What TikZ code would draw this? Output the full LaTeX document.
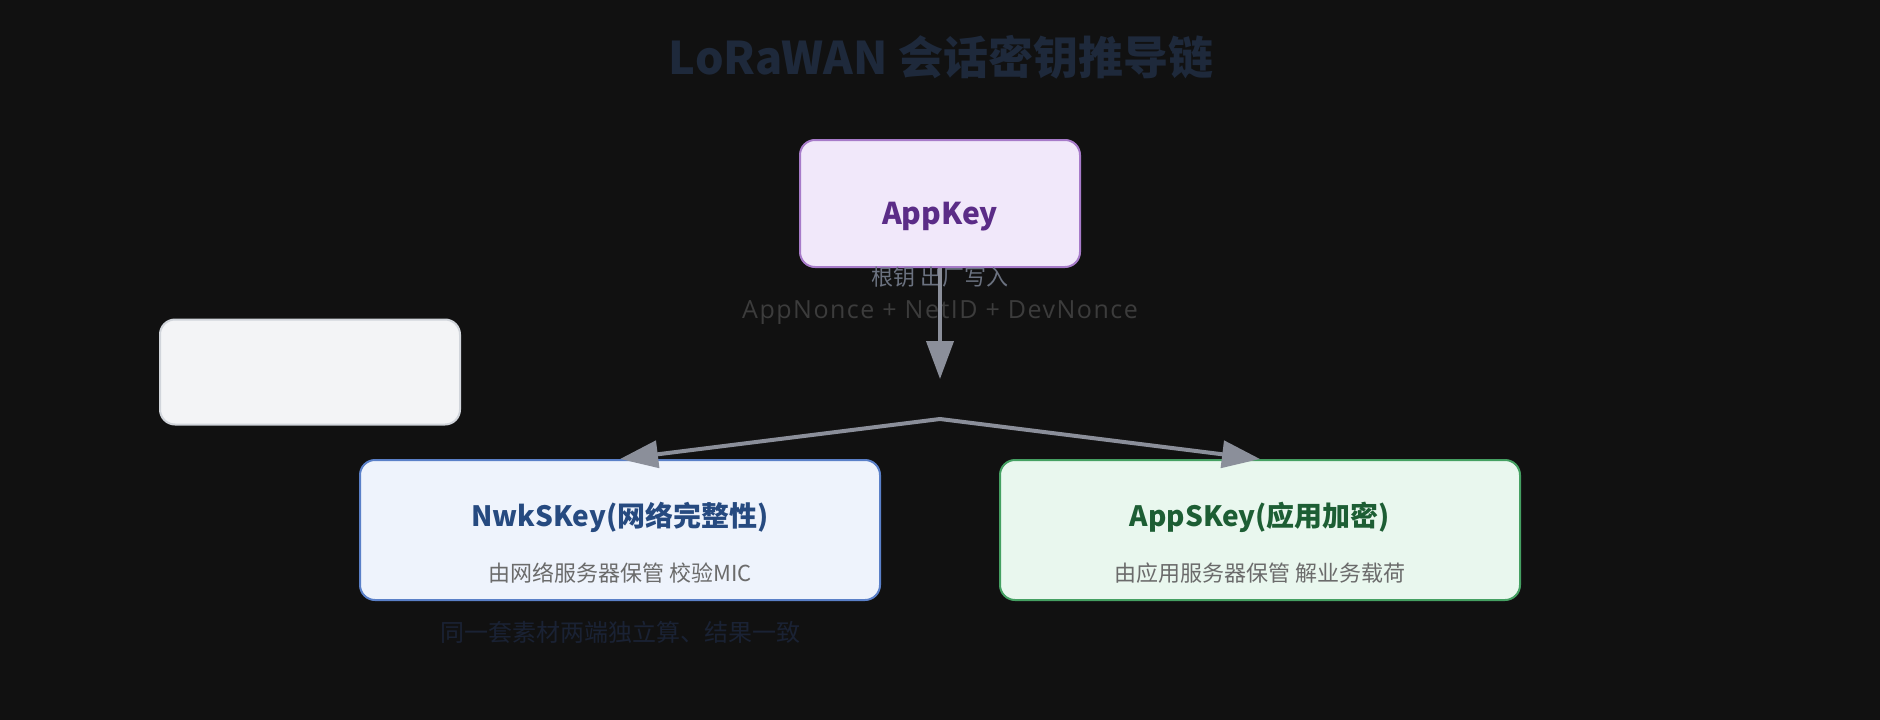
\documentclass[tikz,border=0pt]{standalone}
\usepackage{fontspec}
\setmainfont{Noto Sans CJK SC}
\newfontfamily\noncefont[LetterSpace=6]{Open Sans}
\usetikzlibrary{arrows.meta,positioning}
\definecolor{bgdark}{HTML}{111111}
\definecolor{titleslate}{HTML}{1E293B}
\definecolor{footslate}{HTML}{1A2234}
\definecolor{linkgray}{HTML}{8B8F9A}
\definecolor{notegray}{HTML}{6B7280}
\definecolor{noncegray}{HTML}{3C3C3C}
\definecolor{subgray}{HTML}{6B6B6B}
\definecolor{appfill}{HTML}{F1E8FA}
\definecolor{appline}{HTML}{A77BC9}
\definecolor{apptext}{HTML}{5B2C87}
\definecolor{nwkfill}{HTML}{EEF3FC}
\definecolor{nwkline}{HTML}{5A80C8}
\definecolor{nwktext}{HTML}{264A80}
\definecolor{askfill}{HTML}{E9F7EE}
\definecolor{askline}{HTML}{45A062}
\definecolor{asktext}{HTML}{1D5E34}
\definecolor{blankfill}{HTML}{F3F4F6}
\definecolor{blankline}{HTML}{D1D5DB}

\begin{document}
\begin{tikzpicture}[x=1pt,y=-1pt,
    keybox/.style={draw, rounded corners=15pt, line width=2pt, inner sep=0pt},
    keyname/.style={font=\fontsize{28}{34}\selectfont\bfseries, inner sep=0pt},
    keynote/.style={font=\fontsize{22}{26}\selectfont, text=subgray, inner sep=0pt},
    link/.style={draw=linkgray, line width=4pt},
    tip/.style={-{Triangle[length=38pt,width=27pt]}}]
    % Background
    \fill[bgdark] (0,0) rectangle (1880,720);
    \useasboundingbox (0,0) rectangle (1880,720);

    % Title
    \node[text=titleslate, font=\fontsize{45}{54}\selectfont\bfseries] (title) at (941,57) {LoRaWAN 会话密钥推导链};

    % Root key
    \node[keybox, draw=appline, fill=appfill, minimum width=280pt, minimum height=127pt] (app) at (940,203.5) {};
    \node[keyname, text=apptext, font=\fontsize{30}{36}\selectfont\bfseries] (appname) at (940,217) {AppKey};

    % Derivation inputs
    \node[font=\fontsize{22}{26}\selectfont, text=notegray, inner sep=0pt] (rootnote) at (940,277) {根钥 出厂写入};
    \node[font=\noncefont\fontsize{25}{30}\selectfont, text=noncegray, inner sep=0pt] (nonce) at (940,313) {AppNonce + NetID + DevNonce};

    % Empty box
    \node[keybox, draw=blankline, fill=blankfill, minimum width=300pt, minimum height=105pt] (blank) at (310,372) {};

    % Session keys
    \node[keybox, draw=nwkline, fill=nwkfill, minimum width=520pt, minimum height=140pt] (nwk) at (620,530) {};
    \node[keyname, text=nwktext] (nwkname) at (620,517) {NwkSKey(网络完整性)};
    \node[keynote] (nwknote) at (620,573) {由网络服务器保管 校验MIC};

    \node[keybox, draw=askline, fill=askfill, minimum width=520pt, minimum height=140pt] (ask) at (1260,530) {};
    \node[keyname, text=asktext] (askname) at (1260,517) {AppSKey(应用加密)};
    \node[keynote] (asknote) at (1260,573) {由应用服务器保管 解业务载荷};

    % Footer
    \node[font=\fontsize{24}{29}\selectfont, text=footslate, inner sep=0pt] (foot) at (620,632) {同一套素材两端独立算、结果一致};

    % Arrows
    \coordinate (down) at (940,379);
    \coordinate (split) at (940,419);
    \draw[link, tip] (app.south) -- (down);
    \draw[link, tip, line join=round] (split) -- (nwk.north);
    \draw[link, tip, line join=round] (split) -- (ask.north);
\end{tikzpicture}
\end{document}
